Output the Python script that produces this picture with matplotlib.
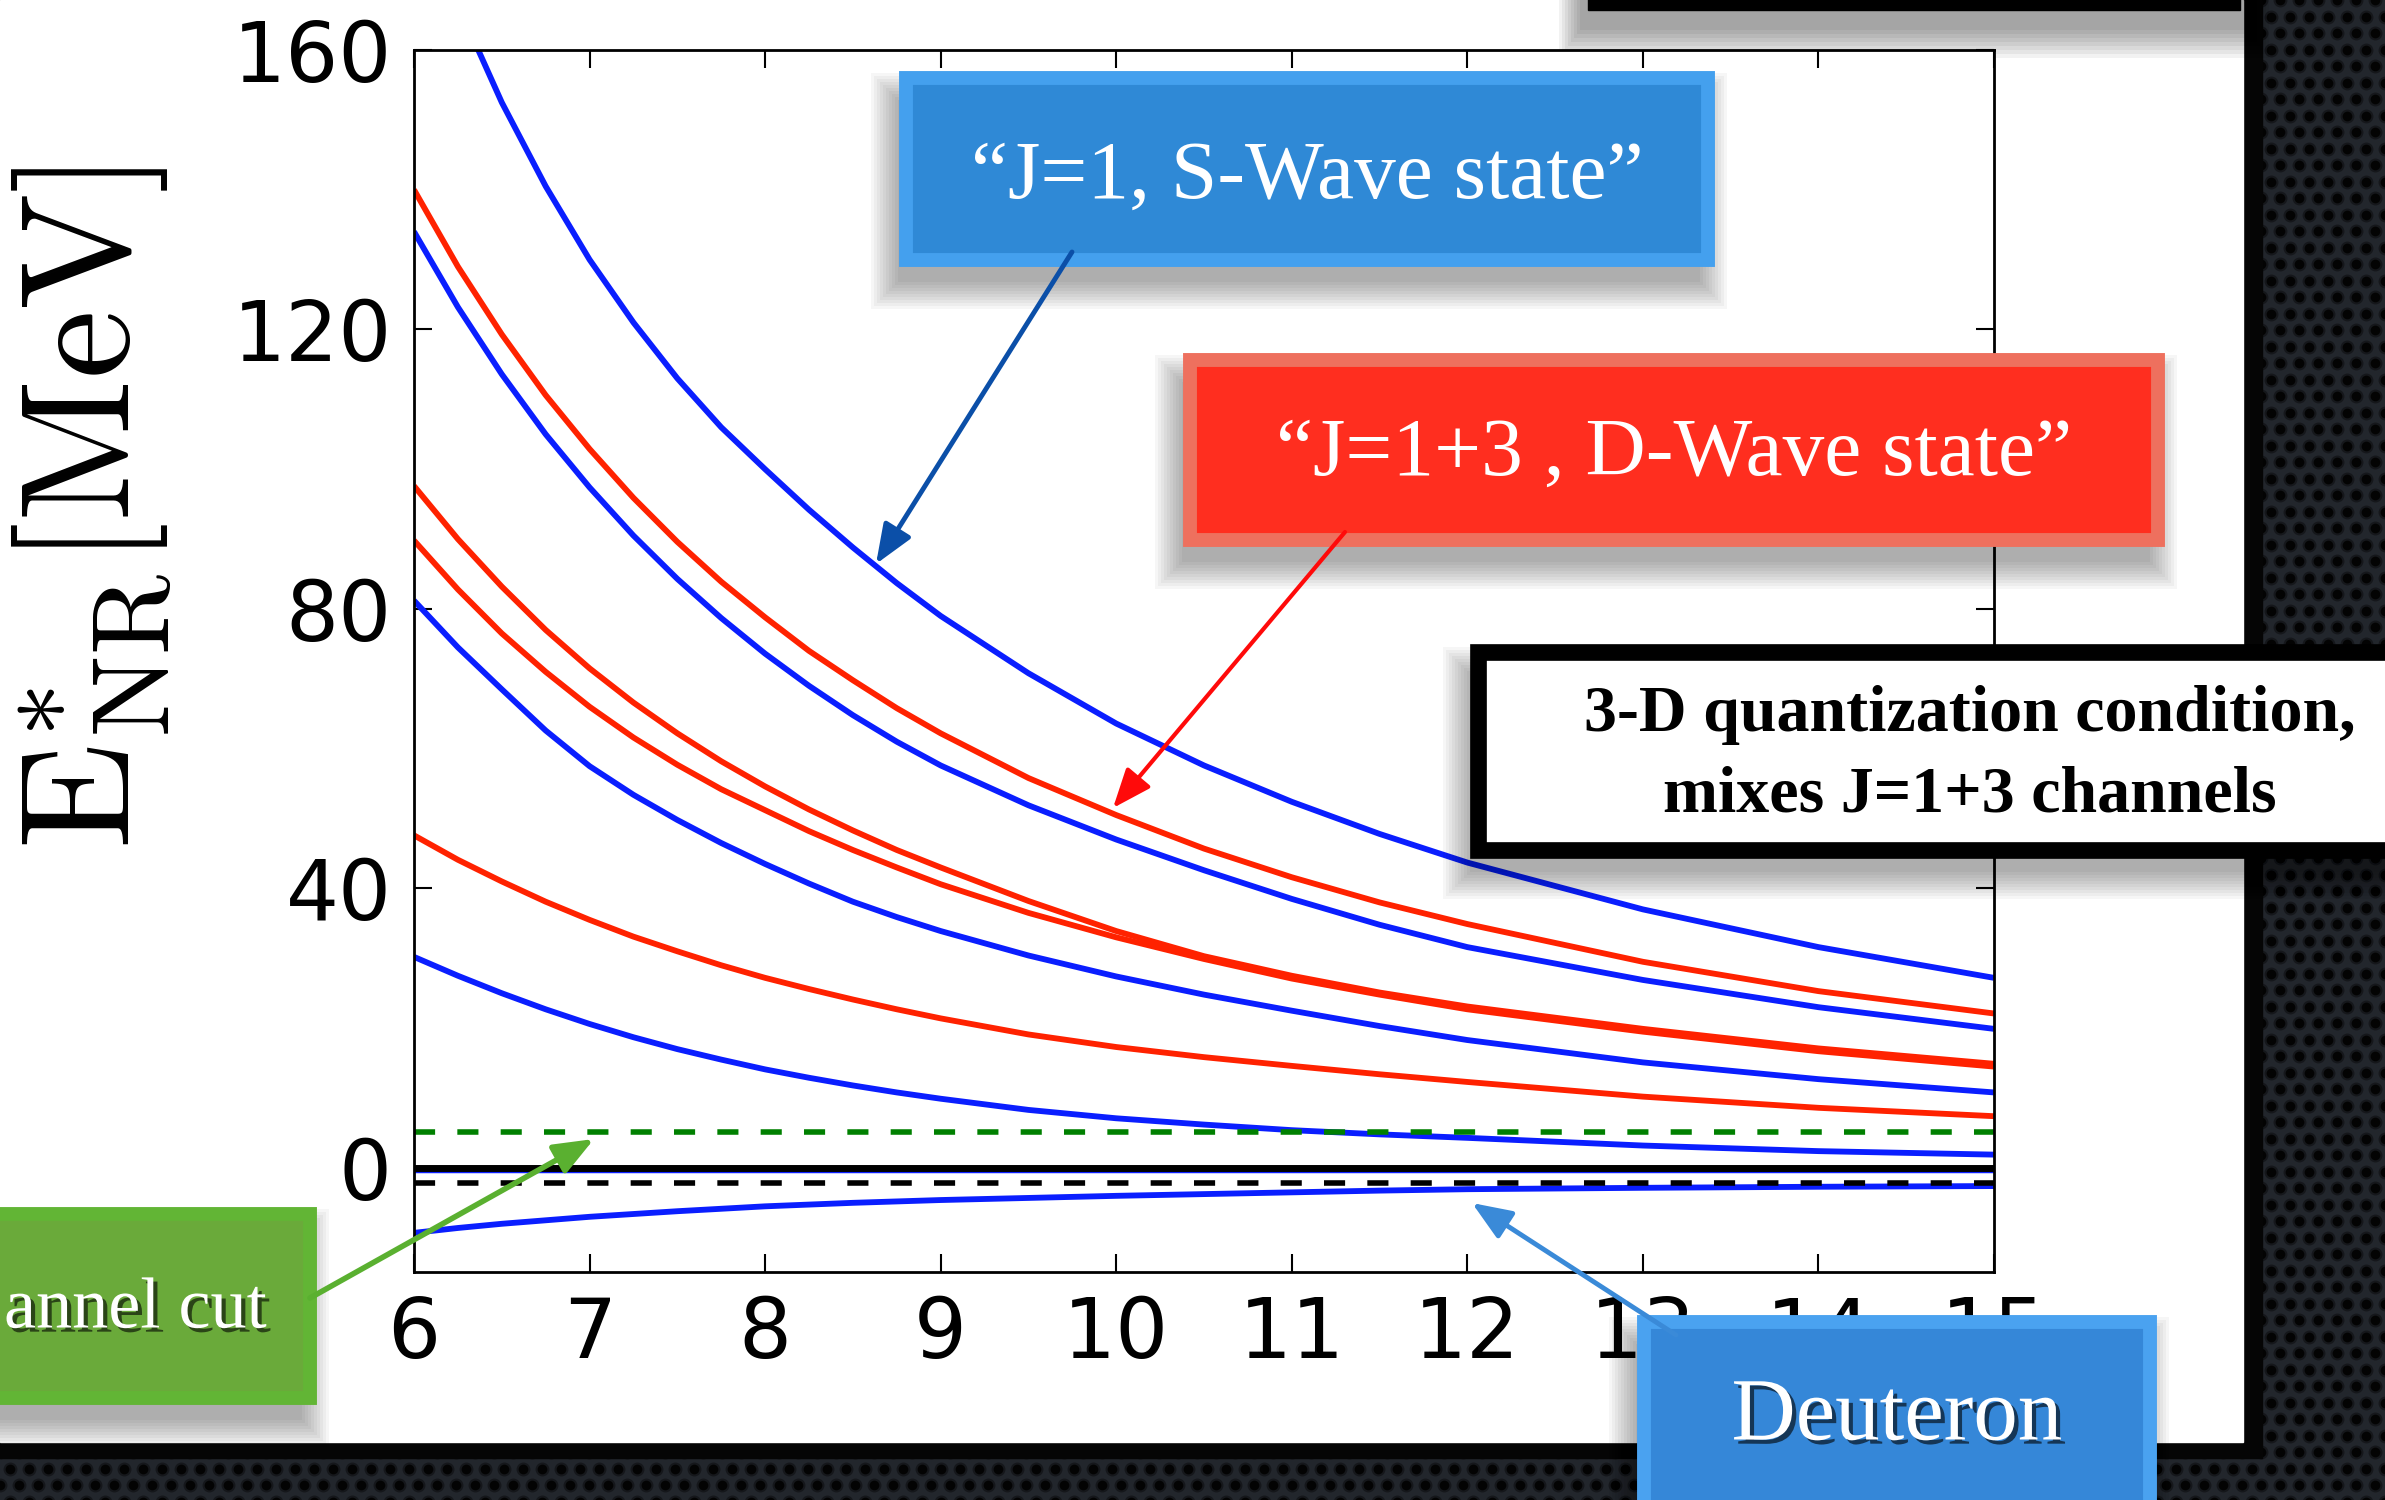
import numpy as np
import matplotlib
matplotlib.use('Agg')
import matplotlib.pyplot as plt
import matplotlib.patches as patches
import matplotlib.patheffects as pe

plt.rcParams['mathtext.fontset'] = 'cm'

L = [6, 6.25, 6.5, 6.75, 7, 7.25, 7.5, 7.75, 8, 8.25, 8.5, 8.75, 9,
     9.5, 10, 10.5, 11, 11.5, 12, 13, 14, 15]

# "J=1, S-Wave" levels (blue)
s_wave_1 = [182, 166.5, 152.5, 140.5, 130, 121, 113, 106, 100, 94.2, 88.8, 83.7, 79,
            70.8, 63.6, 57.6, 52.4, 47.8, 43.7, 37.0, 31.6, 27.2]
s_wave_2 = [134, 123.2, 113.6, 105, 97.4, 90.5, 84.3, 78.7, 73.6, 69, 64.8, 61.0, 57.6,
            51.9, 47.0, 42.6, 38.5, 34.8, 31.6, 26.9, 23.0, 19.9]
s_wave_3 = [81.2, 74.5, 68.5, 62.6, 57.5, 53.4, 49.8, 46.5, 43.5, 40.7, 38.1, 35.9, 33.9,
            30.4, 27.4, 24.8, 22.5, 20.3, 18.3, 15.1, 12.7, 10.8]
s_wave_4 = [30.2, 27.5, 25, 22.7, 20.6, 18.7, 17, 15.5, 14.1, 12.9, 11.8, 10.8, 9.9,
            8.3, 7.1, 6.2, 5.4, 4.8, 4.3, 3.2, 2.4, 1.9]
deuteron = [-9.3, -8.6, -8.0, -7.5, -7.0, -6.6, -6.2, -5.85, -5.5, -5.25, -5.0, -4.8, -4.6,
            -4.3, -4.0, -3.75, -3.5, -3.25, -3.05, -2.85, -2.7, -2.6]

# "J=1+3, D-Wave" levels (red)
d_wave_1 = [140, 129, 119.3, 110.6, 102.9, 95.9, 89.6, 83.9, 78.8, 74, 69.8, 65.8, 62.2,
            55.8, 50.5, 45.7, 41.6, 38.0, 34.9, 29.5, 25.3, 22.1]
d_wave_2 = [97.6, 90, 83.2, 77, 71.5, 66.6, 62.2, 58.2, 54.6, 51.3, 48.3, 45.5, 43.0,
            38.2, 33.9, 30.3, 27.5, 25.1, 23.1, 19.9, 17.1, 14.9]
d_wave_3 = [89.8, 82.8, 76.5, 71, 66, 61.6, 57.7, 54.2, 51.2, 48.2, 45.5, 43.0, 40.6,
            36.5, 33.0, 29.9, 27.1, 24.8, 22.7, 19.5, 16.7, 14.5]
d_wave_4 = [47.6, 44.1, 41, 38.1, 35.5, 33.1, 31, 29, 27.2, 25.6, 24.1, 22.7, 21.4,
            19.1, 17.3, 15.85, 14.6, 13.4, 12.3, 10.2, 8.6, 7.4]

# reference levels
channel_cut = 5.2
zero_level = 0.0
zero_mode = -0.5
deuteron_inf = -2.2

x_ticks = [6, 7, 8, 9, 10, 11, 12, 13, 14, 15]
y_ticks = [0, 40, 80, 120, 160]

W, H = 2385, 1500
BLUE = '#0a1eff'
RED = '#ff2200'

fig = plt.figure(figsize=(W / 100, H / 100), dpi=100)

# slide background: perforated dark metal + white sheet
bg = fig.add_axes([0, 0, 1, 1], zorder=0)
bg.set_xlim(0, W)
bg.set_ylim(H, 0)
bg.axis('off')
bg.add_patch(patches.Rectangle((0, 0), W, H, color='#22262c'))
gx, gy = np.meshgrid(np.arange(0, W + 20, 19), np.arange(0, H + 20, 16.5))
gx = gx + (np.arange(gy.shape[0])[:, None] % 2) * 9.5
bg.scatter(gx.ravel(), gy.ravel(), s=72, marker='o', c='#030303',
           edgecolors='#15171b', linewidths=1.5)
bg.add_patch(patches.Rectangle((0, 0), 2262, 1458, color='#050505'))
bg.add_patch(patches.Rectangle((0, 0), 2243, 1442, color='white'))
for i in range(8):
    bg.add_patch(patches.Rectangle((1580 - i * 3, -30), 668 + i * 6, 60 + i * 4,
                                   color='k', alpha=0.05, lw=0))
bg.add_patch(patches.Rectangle((1588, -30), 652, 40, color='black'))

# the plot itself
ax = fig.add_axes([414 / W, 1 - 1272 / H, 1580 / W, 1222 / H], zorder=1)
ax.set_facecolor('white')

lw = 4.2
for ys in [s_wave_1, s_wave_2, s_wave_3, s_wave_4, deuteron]:
    ax.plot(L, ys, color=BLUE, lw=lw, solid_capstyle='butt', solid_joinstyle='round')
for ys in [d_wave_1, d_wave_2, d_wave_3, d_wave_4]:
    ax.plot(L, ys, color=RED, lw=lw, solid_capstyle='butt', solid_joinstyle='round')

ax.axhline(zero_mode, color=BLUE, lw=2.5)
ax.axhline(zero_level, color='black', lw=5)
ax.axhline(channel_cut, color='green', lw=4, dashes=(3.8, 4.0))
ax.axhline(deuteron_inf, color='black', lw=4, dashes=(3.8, 4.0))

ax.set_xlim(6, 15)
ax.set_ylim(-14.9, 160)
ax.set_xticks(x_ticks)
ax.set_yticks(y_ticks)
ax.tick_params(direction='in', length=13, width=1.5, top=True, right=True,
               labelsize=60, pad=16)
for sp in ax.spines.values():
    sp.set_linewidth(2)

ax.set_ylabel(r'$\mathrm{E}^{*}_{\mathrm{NR}}[\mathrm{MeV}]$', fontsize=112)
ax.yaxis.set_label_coords(-0.152, 0.625)

# callouts on top of everything
ov = fig.add_axes([0, 0, 1, 1], zorder=3)
ov.set_xlim(0, W)
ov.set_ylim(H, 0)
ov.axis('off')
ov.patch.set_alpha(0)


def callout(x0, y0, x1, y1, face, edge, edge_w=10):
    # soft drop shadow, then the box
    for i in range(10):
        ov.add_patch(patches.Rectangle((x0 - 8 - i * 3, y0 + 22 - i * 3),
                                       (x1 - x0) + i * 6, (y1 - y0) + i * 6,
                                       color='k', alpha=0.035, lw=0))
    ov.add_patch(patches.Rectangle((x0, y0), x1 - x0, y1 - y0, facecolor=face,
                                   edgecolor=edge, lw=edge_w))


def arrow(tail, head, color, width=3.5):
    ov.annotate('', xy=head, xytext=tail,
                arrowprops=dict(arrowstyle='-|>,head_length=1.5,head_width=0.6',
                                color=color, lw=width, shrinkA=0, shrinkB=0,
                                mutation_scale=16))


serif = 'Liberation Serif'
shadow_txt = [pe.SimplePatchShadow(offset=(3, -3), shadow_rgbFace='k', alpha=0.6), pe.Normal()]

# S-wave label
callout(906, 78, 1708, 260, '#2f89d6', '#44a0ee')
ov.text(1307, 178, '\u201cJ=1, S-Wave state\u201d', color='white', fontsize=60,
        family=serif, ha='center', va='center')
arrow((1072, 252), (876, 564), '#0b4fa8')

# D-wave label
callout(1190, 360, 2158, 540, '#ff2e1f', '#ee705e')
ov.text(1674, 455, '\u201cJ=1+3 , D-Wave state\u201d', color='white', fontsize=60,
        family=serif, ha='center', va='center')
arrow((1345, 532), (1113, 808), '#ff0a0a', 3)

# quantization note
callout(1478, 652, 2420, 850, 'white', 'black', 12)
ov.text(1970, 715, '3-D quantization condition,', color='black', fontsize=47.5,
        family=serif, weight='bold', ha='center', va='center')
ov.text(1970, 796, 'mixes J=1+3 channels', color='black', fontsize=47.5,
        family=serif, weight='bold', ha='center', va='center')

# channel cut label
arrow((310, 1298), (594, 1139), '#5ab030', 4)
callout(-40, 1214, 310, 1398, '#6aaa3a', '#62b535')
ov.text(4, 1310, 'annel cut', color='white', fontsize=52, family=serif,
        ha='left', va='center', path_effects=shadow_txt)

# deuteron label
arrow((1676, 1335), (1472, 1203), '#3a8ad8', 3.5)
callout(1644, 1322, 2150, 1540, '#3587d8', '#4aa2f0')
ov.text(1897, 1418, 'Deuteron', color='white', fontsize=64, family=serif,
        ha='center', va='center', path_effects=shadow_txt)

fig.savefig('out.png', dpi=100)
